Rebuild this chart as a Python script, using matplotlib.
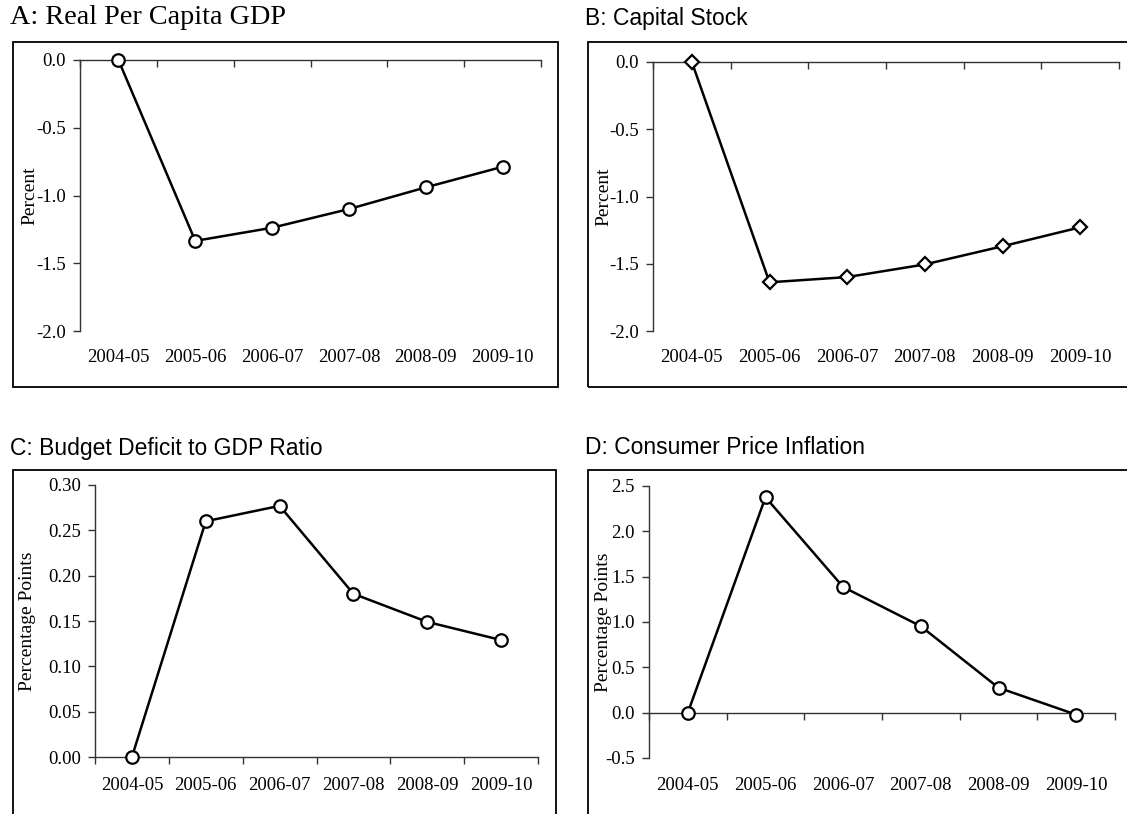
import matplotlib

matplotlib.use("Agg")
import matplotlib.pyplot as plt
import numpy as np
from matplotlib.patches import Rectangle
from matplotlib.ticker import FormatStrFormatter
from matplotlib.transforms import blended_transform_factory

# data
years = ["2004-05", "2005-06", "2006-07", "2007-08", "2008-09", "2009-10"]
gdp = [0.0, -1.335, -1.238, -1.100, -0.940, -0.788]
capital = [0.0, -1.638, -1.599, -1.505, -1.370, -1.229]
deficit = [0.0, 0.260, 0.277, 0.180, 0.149, 0.129]
cpi = [0.0, 2.376, 1.386, 0.953, 0.275, -0.022]

W, H = 1127, 814
SERIF = "Liberation Serif"
SANS = "Liberation Sans"


def _rect(x0, x1, ytop, ybot):
    return [x0 / W, 1 - ybot / H, (x1 - x0) / W, (ybot - ytop) / H]


def _panel(fig, box, axes_px, title, title_font, title_size, title_xy,
           values, ylim, yticks, yfmt, ylabel, ylabel_x, label_y, marker, msize):
    # outer frame of the panel
    bx0, bx1, by0, by1 = box
    fig.add_artist(Rectangle((bx0 / W, 1 - by1 / H), (bx1 - bx0) / W, (by1 - by0) / H,
                             transform=fig.transFigure, fill=False, lw=1.3,
                             ec="black", clip_on=False))
    fig.text(title_xy[0] / W, 1 - title_xy[1] / H, title, family=title_font,
             fontsize=title_size, ha="left", va="center")

    ax = fig.add_axes(_rect(*axes_px))
    x = np.arange(len(years))
    ax.plot(x, values, color="black", lw=1.8, marker=marker, ms=msize,
            mfc="white", mec="black", mew=1.6, clip_on=False, zorder=5)
    ax.set_xlim(-0.5, len(years) - 0.5)
    ax.set_ylim(*ylim)
    ax.set_yticks(yticks)
    ax.yaxis.set_major_formatter(FormatStrFormatter(yfmt))
    ax.set_xticks(np.arange(-0.5, len(years), 1.0))
    ax.set_xticklabels([])
    for side in ("top", "right"):
        ax.spines[side].set_visible(False)
    ax.spines["bottom"].set_position(("data", 0))
    for side in ("left", "bottom"):
        ax.spines[side].set_linewidth(1.0)
        ax.spines[side].set_color("#333333")
    ax.tick_params(axis="both", direction="out", length=5, width=1.0, color="#333333")
    ax.tick_params(axis="y", pad=5)
    for lab in ax.get_yticklabels():
        lab.set_family(SERIF)
        lab.set_fontsize(13.5)
    ax.patch.set_visible(False)

    trans = blended_transform_factory(ax.transData, fig.transFigure)
    for i, name in enumerate(years):
        ax.text(i, 1 - label_y / H, name, transform=trans, ha="center", va="center",
                family=SERIF, fontsize=13.5)

    ymid = (axes_px[2] + axes_px[3]) / 2
    fig.text(ylabel_x / W, 1 - ymid / H, ylabel, rotation=90, ha="center", va="center",
             family=SERIF, fontsize=14)
    return ax


fig = plt.figure(figsize=(W / 100, H / 100), dpi=100)

_panel(fig, (13, 558, 42, 387), (80, 541, 60, 331), "A: Real Per Capita GDP", SERIF, 20.3,
       (10, 18), gdp, (-2.0, 0.0), np.arange(-2.0, 0.01, 0.5), "%.1f", "Percent", 30, 358,
       "o", 9)
_panel(fig, (588, 1135, 42, 387), (653, 1119, 62, 331), "B: Capital Stock", SANS, 16.5,
       (585, 18), capital, (-2.0, 0.0), np.arange(-2.0, 0.01, 0.5), "%.1f", "Percent", 604,
       358, "D", 7.5)
_panel(fig, (13, 556, 470, 820), (95, 538, 485, 757), "C: Budget Deficit to GDP Ratio", SANS,
       16.5, (10, 448), deficit, (0.0, 0.30), np.arange(0.0, 0.301, 0.05), "%.2f",
       "Percentage Points", 28, 786, "o", 9)
_panel(fig, (588, 1135, 470, 820), (649, 1115, 486, 758), "D: Consumer Price Inflation", SANS,
       16.5, (585, 448), cpi, (-0.5, 2.5), np.arange(-0.5, 2.51, 0.5), "%.1f",
       "Percentage Points", 604, 786, "o", 9)

fig.savefig("out.png", dpi=100)
plt.close(fig)
